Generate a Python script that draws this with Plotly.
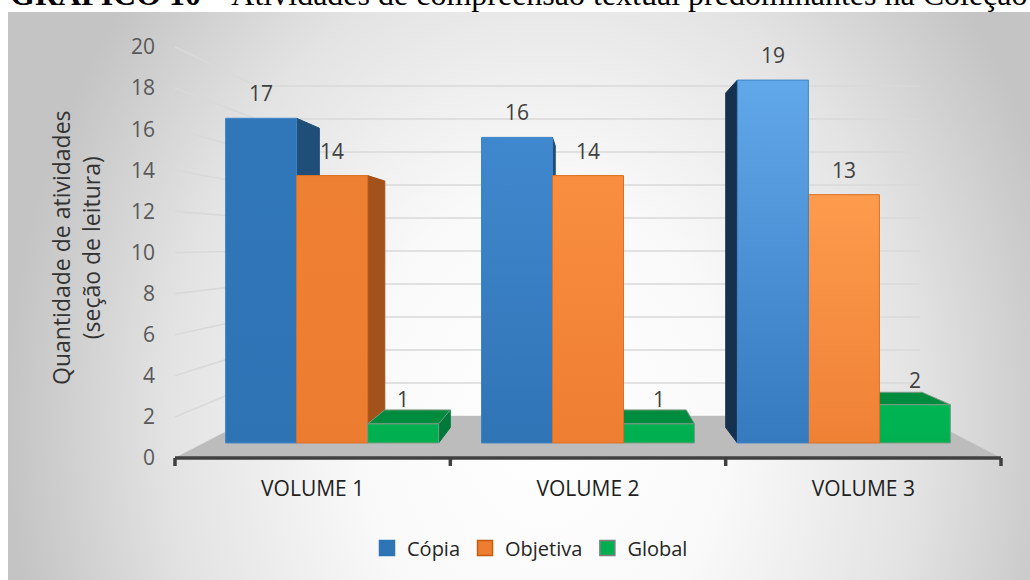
import plotly.graph_objects as go

# ---------------- data ----------------
categories = ["VOLUME 1", "VOLUME 2", "VOLUME 3"]
series_names = ["Cópia", "Objetiva", "Global"]
copia = [17, 16, 19]
objetiva = [14, 14, 13]
global_vals = [1, 1, 2]
y_tick_values = [0, 2, 4, 6, 8, 10, 12, 14, 16, 18, 20]
y_axis_title = "Quantidade de atividades<br>(seção de leitura)"
caption_bold = "GRÁFICO 10"
caption_rest = " – Atividades de compreensão textual predominantes na Coleção"

series_values = [copia, objetiva, global_vals]

# ---------------- styles ----------------
# front face gradient per series and category: (bottom colour, top colour)
front_colors = [
    [("#2e74b5", "#3077b9"), ("#2f74b5", "#4088ce"), ("#3579be", "#61a8ea")],
    [("#ec7c30", "#ee8034"), ("#ee7e31", "#f98e40"), ("#ef8135", "#fd9b4d")],
    [("#00b050", "#00b050"), ("#00b050", "#00b050"), ("#00b050", "#00b553")],
]
front_line = ["#3f84c6", "#dd6f22", "#7a9a84"]
# side faces: lit from the left, so left-hand sides are darker
side_right = ["#1f4e79", "#a3521c", "#00793a"]
side_left = ["#15314f", "#7a3a10", "#005c2a"]
top_colors = ["#5b9bd5", "#f4a36a", "#008c3e"]
legend_colors = ["#2e75b6", "#ed7d31", "#00b050"]
legend_lines = ["#2e75b6", "#c55a11", "#7f7f7f"]

FONT = "Open Sans"
W, H = 1030, 580

# front plane of the axes, in pixels
AX_LEFT_PX, AX_RIGHT_PX = 175, 1001
ZERO_PX, TOP_PX = 458, 47
Y_MAX = 20
N_CAT = len(categories)
PX_PER_U = (AX_RIGHT_PX - AX_LEFT_PX) / N_CAT
PX_PER_V = (ZERO_PX - TOP_PX) / Y_MAX

# perspective: vanishing point and depths of bar faces / back wall
VP_U = N_CAT / 2
VP_V = (ZERO_PX - 245) / PX_PER_V
D_BAR_FRONT, D_BAR_BACK, D_WALL = 0.076, 0.167, 0.245
GROUP_W = 0.8325
BAR_W = GROUP_W / len(series_names)
LABEL_SHIFT = 25
CHART_TOP_PX, CHART_LEFT_PX = 12, 8


def proj(u, v, d):
    r = 1.0 / (1.0 + d)
    return VP_U + (u - VP_U) * r, VP_V + (v - VP_V) * r


def px_to_data(px, py):
    return (px - AX_LEFT_PX) / PX_PER_U, (ZERO_PX - py) / PX_PER_V


def polygon(points, **kw):
    xs, ys = [], []
    for p in points:
        x, y = proj(*p)
        xs.append(x)
        ys.append(y)
    xs.append(xs[0])
    ys.append(ys[0])
    return go.Scatter(x=xs, y=ys, mode="lines", fill="toself",
                      hoverinfo="skip", showlegend=False, **kw)


traces = []

# chart area background with radial shading
bx0, by0 = px_to_data(CHART_LEFT_PX, -250)
bx1, by1 = px_to_data(1080, 1090)
traces.append(go.Scatter(
    x=[bx0, bx1, bx1, bx0, bx0], y=[by0, by0, by1, by1, by0],
    mode="lines", fill="toself", line=dict(width=0),
    fillgradient=dict(type="radial",
                      colorscale=[[0, "#ffffff"], [0.35, "#f9f9f9"],
                                  [0.7, "#e3e3e3"], [1, "#c4c4c4"]]),
    hoverinfo="skip", showlegend=False))

# page margin strips around the chart area
sx = []
sy = []
for (a, b, c, d) in [(-5, -5, 1040, CHART_TOP_PX), (-5, -5, CHART_LEFT_PX, 590)]:
    p0 = px_to_data(a, b)
    p1 = px_to_data(c, d)
    sx += [p0[0], p1[0], p1[0], p0[0], p0[0], None]
    sy += [p0[1], p0[1], p1[1], p1[1], p0[1], None]
traces.append(go.Scatter(x=sx, y=sy, mode="lines", fill="toself",
                         fillcolor="#ffffff", line=dict(width=0),
                         hoverinfo="skip", showlegend=False))

# side wall and back wall gridlines
gx, gy = [], []
for v in y_tick_values[1:]:
    for p in [(0, v, 0), (0, v, D_WALL), (N_CAT, v, D_WALL)]:
        x, y = proj(*p)
        gx.append(x)
        gy.append(y)
    gx.append(None)
    gy.append(None)
traces.append(go.Scatter(x=gx, y=gy, mode="lines",
                         line=dict(color="#d9d9d9", width=1.6),
                         hoverinfo="skip", showlegend=False))

# floor
traces.append(polygon([(0, 0, 0), (N_CAT, 0, 0), (N_CAT, 0, D_WALL), (0, 0, D_WALL)],
                      fillcolor="#bcbcbc", line=dict(color="#bcbcbc", width=0.5)))

# bars, painted from the outside towards the vanishing point
bars = []
for ci in range(N_CAT):
    left = ci + 0.5 - GROUP_W / 2
    for si, vals in enumerate(series_values):
        u0 = left + si * BAR_W
        u1 = u0 + BAR_W
        bars.append((abs((u0 + u1) / 2 - VP_U), ci, si, u0, u1, vals[ci]))
bars.sort(key=lambda b: -b[0])

annotations = []
for _, ci, si, u0, u1, val in bars:
    df, db = D_BAR_FRONT, D_BAR_BACK
    if u1 < VP_U - 1e-6:
        traces.append(polygon([(u1, 0, df), (u1, val, df), (u1, val, db), (u1, 0, db)],
                              fillcolor=side_right[si],
                              line=dict(color=side_right[si], width=1)))
    if u0 > VP_U + 1e-6:
        traces.append(polygon([(u0, 0, df), (u0, val, df), (u0, val, db), (u0, 0, db)],
                              fillcolor=side_left[si],
                              line=dict(color=side_left[si], width=1)))
    if val < VP_V:
        traces.append(polygon([(u0, val, df), (u1, val, df), (u1, val, db), (u0, val, db)],
                              fillcolor=top_colors[si],
                              line=dict(color=front_line[si], width=1)))
    bottom, top = front_colors[si][ci]
    traces.append(polygon([(u0, 0, df), (u1, 0, df), (u1, val, df), (u0, val, df)],
                          fillcolor=bottom,
                          fillgradient=dict(type="vertical",
                                            colorscale=[[0, bottom], [1, top]]),
                          line=dict(color=front_line[si], width=1)))
    lx, ly = proj((u0 + u1) / 2, val, df)
    annotations.append(dict(x=lx, y=ly, xref="x", yref="y", text=str(val),
                            showarrow=False, yshift=LABEL_SHIFT,
                            font=dict(family=FONT, size=21, color="#404040")))

# category axis line with tick marks at category boundaries
traces.append(go.Scatter(x=[0, N_CAT], y=[0, 0], mode="lines",
                         line=dict(color="#404040", width=3.5),
                         hoverinfo="skip", showlegend=False))
tick_len = 8 / PX_PER_V
tx, ty = [], []
for k in range(N_CAT + 1):
    tx += [k, k, None]
    ty += [0, -tick_len, None]
traces.append(go.Scatter(x=tx, y=ty, mode="lines",
                         line=dict(color="#404040", width=3.5),
                         hoverinfo="skip", showlegend=False))

# legend entries
for name, c, lc in zip(series_names, legend_colors, legend_lines):
    traces.append(go.Scatter(x=[None], y=[None], mode="markers", name=name,
                             marker=dict(symbol="square", size=15, color=c,
                                         line=dict(color=lc, width=1.5))))

# y axis title and caption
annotations.append(dict(x=76 / W, y=1 - 248 / H, xref="paper", yref="paper",
                        xanchor="center", yanchor="middle",
                        text=y_axis_title, textangle=-90, showarrow=False,
                        font=dict(family=FONT, size=23, color="#333333")))
annotations.append(dict(x=8 / W, y=1 - 14 / H, xref="paper", yref="paper",
                        xanchor="left", yanchor="bottom", showarrow=False,
                        text="<b>" + caption_bold + "</b>" + caption_rest,
                        font=dict(family="Liberation Serif", size=32, color="#000000")))

x_range = [-AX_LEFT_PX / PX_PER_U, (W - AX_LEFT_PX) / PX_PER_U]
y_range = [-(H - ZERO_PX) / PX_PER_V, ZERO_PX / PX_PER_V]

fig = go.Figure(traces)
fig.update_layout(
    width=W, height=H, autosize=False,
    margin=dict(l=0, r=0, t=0, b=0),
    paper_bgcolor="#ffffff", plot_bgcolor="rgba(0,0,0,0)",
    showlegend=True,
    legend=dict(orientation="h", x=530 / W, xanchor="center",
                y=1 - 548 / H, yanchor="middle",
                font=dict(family=FONT, size=20, color="#262626"),
                bgcolor="rgba(0,0,0,0)", itemwidth=30),
    xaxis=dict(range=x_range, domain=[0, 1], anchor="free",
               position=(H - ZERO_PX) / H,
               tickvals=[i + 0.5 for i in range(N_CAT)], ticktext=categories,
               ticks="", showgrid=False, zeroline=False, showline=False,
               ticklabelstandoff=16,
               tickfont=dict(family=FONT, size=21, color="#1f1f1f")),
    yaxis=dict(range=y_range, domain=[0, 1], anchor="free",
               position=AX_LEFT_PX / W,
               tickvals=y_tick_values, ticks="", showgrid=False,
               zeroline=False, showline=False, ticklabelstandoff=20,
               tickfont=dict(family=FONT, size=21, color="#595959")),
    annotations=annotations,
)

fig.write_html("out.html")
